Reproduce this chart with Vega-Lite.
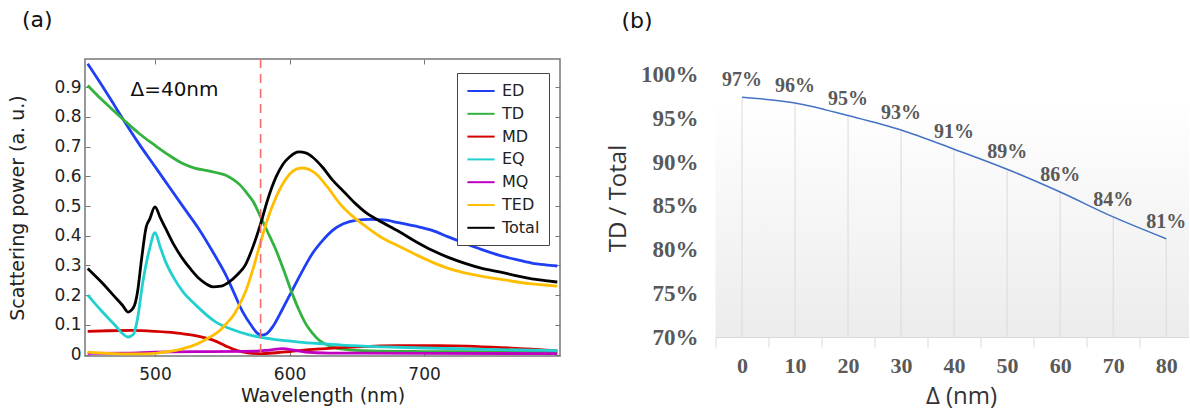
{
  "$schema": "https://vega.github.io/schema/vega-lite/v6.json",
  "background": "white",
  "autosize": {"type": "pad"},
  "padding": {"left": 8, "top": 8, "right": 0, "bottom": 4},
  "bounds": "flush",
  "spacing": 155.5,
  "datasets": {
    "curves": [
      {"s":"ED","wl":450,"v":0.979},{"s":"ED","wl":460,"v":0.91},{"s":"ED","wl":470,"v":0.838},{"s":"ED","wl":477,"v":0.787},{"s":"ED","wl":488,"v":0.71},{"s":"ED","wl":500,"v":0.633},{"s":"ED","wl":510,"v":0.568},{"s":"ED","wl":521,"v":0.497},{"s":"ED","wl":532,"v":0.427},{"s":"ED","wl":545,"v":0.33},{"s":"ED","wl":553,"v":0.265},{"s":"ED","wl":558,"v":0.215},{"s":"ED","wl":565,"v":0.145},{"s":"ED","wl":572,"v":0.095},{"s":"ED","wl":576,"v":0.072},{"s":"ED","wl":579,"v":0.065},{"s":"ED","wl":583,"v":0.07},{"s":"ED","wl":588,"v":0.097},{"s":"ED","wl":595,"v":0.155},{"s":"ED","wl":602,"v":0.216},{"s":"ED","wl":610,"v":0.285},{"s":"ED","wl":617,"v":0.34},{"s":"ED","wl":625,"v":0.386},{"s":"ED","wl":632,"v":0.418},{"s":"ED","wl":640,"v":0.44},{"s":"ED","wl":649,"v":0.452},{"s":"ED","wl":660,"v":0.455},{"s":"ED","wl":670,"v":0.453},{"s":"ED","wl":681,"v":0.444},{"s":"ED","wl":694,"v":0.432},{"s":"ED","wl":706,"v":0.418},{"s":"ED","wl":718,"v":0.396},{"s":"ED","wl":731,"v":0.373},{"s":"ED","wl":743,"v":0.353},{"s":"ED","wl":756,"v":0.334},{"s":"ED","wl":768,"v":0.32},{"s":"ED","wl":780,"v":0.308},{"s":"ED","wl":790,"v":0.302},{"s":"ED","wl":799,"v":0.298},
      {"s":"TD","wl":450,"v":0.906},{"s":"TD","wl":460,"v":0.86},{"s":"TD","wl":470,"v":0.818},{"s":"TD","wl":477,"v":0.789},{"s":"TD","wl":488,"v":0.745},{"s":"TD","wl":500,"v":0.704},{"s":"TD","wl":510,"v":0.672},{"s":"TD","wl":521,"v":0.642},{"s":"TD","wl":530,"v":0.627},{"s":"TD","wl":538,"v":0.62},{"s":"TD","wl":546,"v":0.612},{"s":"TD","wl":553,"v":0.603},{"s":"TD","wl":558,"v":0.59},{"s":"TD","wl":563,"v":0.572},{"s":"TD","wl":568,"v":0.545},{"s":"TD","wl":573,"v":0.515},{"s":"TD","wl":578,"v":0.468},{"s":"TD","wl":584,"v":0.41},{"s":"TD","wl":590,"v":0.351},{"s":"TD","wl":596,"v":0.28},{"s":"TD","wl":602,"v":0.205},{"s":"TD","wl":607,"v":0.15},{"s":"TD","wl":612,"v":0.104},{"s":"TD","wl":617,"v":0.072},{"s":"TD","wl":622,"v":0.048},{"s":"TD","wl":630,"v":0.028},{"s":"TD","wl":640,"v":0.018},{"s":"TD","wl":660,"v":0.012},{"s":"TD","wl":700,"v":0.01},{"s":"TD","wl":750,"v":0.009},{"s":"TD","wl":799,"v":0.008},
      {"s":"MD","wl":450,"v":0.078},{"s":"MD","wl":465,"v":0.08},{"s":"MD","wl":483,"v":0.081},{"s":"MD","wl":500,"v":0.078},{"s":"MD","wl":515,"v":0.073},{"s":"MD","wl":528,"v":0.065},{"s":"MD","wl":538,"v":0.055},{"s":"MD","wl":545,"v":0.045},{"s":"MD","wl":552,"v":0.03},{"s":"MD","wl":558,"v":0.018},{"s":"MD","wl":565,"v":0.009},{"s":"MD","wl":572,"v":0.004},{"s":"MD","wl":579,"v":0.003},{"s":"MD","wl":590,"v":0.006},{"s":"MD","wl":600,"v":0.01},{"s":"MD","wl":620,"v":0.018},{"s":"MD","wl":650,"v":0.026},{"s":"MD","wl":680,"v":0.03},{"s":"MD","wl":710,"v":0.03},{"s":"MD","wl":750,"v":0.025},{"s":"MD","wl":780,"v":0.018},{"s":"MD","wl":799,"v":0.012},
      {"s":"EQ","wl":450,"v":0.2},{"s":"EQ","wl":460,"v":0.148},{"s":"EQ","wl":470,"v":0.1},{"s":"EQ","wl":476,"v":0.07},{"s":"EQ","wl":480,"v":0.059},{"s":"EQ","wl":484,"v":0.068},{"s":"EQ","wl":487,"v":0.12},{"s":"EQ","wl":491,"v":0.244},{"s":"EQ","wl":496,"v":0.356},{"s":"EQ","wl":500,"v":0.41},{"s":"EQ","wl":504,"v":0.36},{"s":"EQ","wl":508,"v":0.311},{"s":"EQ","wl":514,"v":0.258},{"s":"EQ","wl":521,"v":0.21},{"s":"EQ","wl":530,"v":0.168},{"s":"EQ","wl":545,"v":0.11},{"s":"EQ","wl":557,"v":0.085},{"s":"EQ","wl":570,"v":0.066},{"s":"EQ","wl":590,"v":0.05},{"s":"EQ","wl":607,"v":0.042},{"s":"EQ","wl":625,"v":0.036},{"s":"EQ","wl":642,"v":0.031},{"s":"EQ","wl":670,"v":0.026},{"s":"EQ","wl":700,"v":0.022},{"s":"EQ","wl":750,"v":0.017},{"s":"EQ","wl":799,"v":0.013},
      {"s":"MQ","wl":450,"v":0.004},{"s":"MQ","wl":480,"v":0.005},{"s":"MQ","wl":500,"v":0.008},{"s":"MQ","wl":540,"v":0.01},{"s":"MQ","wl":575,"v":0.011},{"s":"MQ","wl":585,"v":0.015},{"s":"MQ","wl":595,"v":0.02},{"s":"MQ","wl":603,"v":0.015},{"s":"MQ","wl":612,"v":0.008},{"s":"MQ","wl":630,"v":0.005},{"s":"MQ","wl":700,"v":0.004},{"s":"MQ","wl":799,"v":0.003},
      {"s":"TED","wl":450,"v":0.008},{"s":"TED","wl":465,"v":0.004},{"s":"TED","wl":485,"v":0.002},{"s":"TED","wl":500,"v":0.004},{"s":"TED","wl":510,"v":0.01},{"s":"TED","wl":521,"v":0.02},{"s":"TED","wl":531,"v":0.035},{"s":"TED","wl":541,"v":0.059},{"s":"TED","wl":548,"v":0.08},{"s":"TED","wl":553,"v":0.104},{"s":"TED","wl":558,"v":0.13},{"s":"TED","wl":563,"v":0.17},{"s":"TED","wl":568,"v":0.22},{"s":"TED","wl":573,"v":0.29},{"s":"TED","wl":578,"v":0.37},{"s":"TED","wl":584,"v":0.46},{"s":"TED","wl":590,"v":0.53},{"s":"TED","wl":595,"v":0.575},{"s":"TED","wl":600,"v":0.607},{"s":"TED","wl":605,"v":0.624},{"s":"TED","wl":610,"v":0.628},{"s":"TED","wl":615,"v":0.622},{"s":"TED","wl":620,"v":0.607},{"s":"TED","wl":628,"v":0.565},{"s":"TED","wl":637,"v":0.51},{"s":"TED","wl":647,"v":0.465},{"s":"TED","wl":657,"v":0.43},{"s":"TED","wl":668,"v":0.395},{"s":"TED","wl":681,"v":0.365},{"s":"TED","wl":694,"v":0.336},{"s":"TED","wl":706,"v":0.311},{"s":"TED","wl":718,"v":0.29},{"s":"TED","wl":731,"v":0.274},{"s":"TED","wl":743,"v":0.263},{"s":"TED","wl":756,"v":0.254},{"s":"TED","wl":768,"v":0.245},{"s":"TED","wl":780,"v":0.238},{"s":"TED","wl":790,"v":0.234},{"s":"TED","wl":799,"v":0.23},
      {"s":"Total","wl":450,"v":0.29},{"s":"Total","wl":460,"v":0.245},{"s":"Total","wl":470,"v":0.195},{"s":"Total","wl":476,"v":0.165},{"s":"Total","wl":480,"v":0.143},{"s":"Total","wl":484,"v":0.158},{"s":"Total","wl":487,"v":0.21},{"s":"Total","wl":490,"v":0.32},{"s":"Total","wl":493.5,"v":0.43},{"s":"Total","wl":496,"v":0.455},{"s":"Total","wl":500,"v":0.497},{"s":"Total","wl":504,"v":0.46},{"s":"Total","wl":508,"v":0.424},{"s":"Total","wl":514,"v":0.37},{"s":"Total","wl":520.5,"v":0.323},{"s":"Total","wl":527,"v":0.285},{"s":"Total","wl":533,"v":0.255},{"s":"Total","wl":538,"v":0.238},{"s":"Total","wl":543,"v":0.228},{"s":"Total","wl":549,"v":0.23},{"s":"Total","wl":555,"v":0.244},{"s":"Total","wl":561,"v":0.268},{"s":"Total","wl":567,"v":0.3},{"s":"Total","wl":573,"v":0.365},{"s":"Total","wl":578.5,"v":0.44},{"s":"Total","wl":584,"v":0.525},{"s":"Total","wl":590,"v":0.598},{"s":"Total","wl":595,"v":0.64},{"s":"Total","wl":600,"v":0.665},{"s":"Total","wl":607,"v":0.682},{"s":"Total","wl":612,"v":0.679},{"s":"Total","wl":617,"v":0.665},{"s":"Total","wl":625,"v":0.628},{"s":"Total","wl":632,"v":0.587},{"s":"Total","wl":640,"v":0.55},{"s":"Total","wl":649,"v":0.508},{"s":"Total","wl":657,"v":0.477},{"s":"Total","wl":666,"v":0.452},{"s":"Total","wl":681,"v":0.415},{"s":"Total","wl":694,"v":0.38},{"s":"Total","wl":706,"v":0.351},{"s":"Total","wl":718,"v":0.327},{"s":"Total","wl":731,"v":0.306},{"s":"Total","wl":743,"v":0.29},{"s":"Total","wl":756,"v":0.278},{"s":"Total","wl":768,"v":0.266},{"s":"Total","wl":780,"v":0.255},{"s":"Total","wl":790,"v":0.249},{"s":"Total","wl":799,"v":0.244}
    ],
    "ratio": [
      {"d":0,"r":0.9745,"label":"97%"},
      {"d":10,"r":0.968,"label":"96%"},
      {"d":20,"r":0.9535,"label":"95%"},
      {"d":30,"r":0.937,"label":"93%"},
      {"d":40,"r":0.915,"label":"91%"},
      {"d":50,"r":0.892,"label":"89%"},
      {"d":60,"r":0.866,"label":"86%"},
      {"d":70,"r":0.8375,"label":"84%"},
      {"d":80,"r":0.8125,"label":"81%"}
    ]
  },
  "hconcat": [
    {
      "width": 475,
      "height": 297,
      "title": {"text": "(a)", "anchor": "start", "frame": "group", "dx": -63, "offset": 9, "baseline": "alphabetic", "fontSize": 22, "font": "DejaVu Sans", "fontWeight": "normal", "color": "#111"},
      "view": {"stroke": "#777", "strokeWidth": 1.5},
      "layer": [
        {
          "data": {"name": "curves"},
          "mark": {"type": "line", "strokeWidth": 2.8, "interpolate": "monotone"},
          "encoding": {
            "x": {"field": "wl", "type": "quantitative", "scale": {"domain": [448, 801], "nice": false, "zero": false},
                  "axis": {"orient": "bottom", "values": [500, 600, 700], "tickSize": -5, "labelPadding": 15, "domain": false, "grid": false, "tickColor": "#777", "labelFontSize": 17, "labelFont": "DejaVu Sans", "labelColor": "#222", "title": "Wavelength (nm)", "titleFont": "DejaVu Sans", "titleFontSize": 19, "titleFontWeight": "normal", "titleColor": "#222", "titlePadding": 4}},
            "y": {"field": "v", "type": "quantitative", "scale": {"domain": [-0.005, 0.995], "nice": false, "zero": false},
                  "axis": {"orient": "left", "values": [0, 0.1, 0.2, 0.3, 0.4, 0.5, 0.6, 0.7, 0.8, 0.9], "format": ".1~f", "tickSize": -5, "labelPadding": 9, "domain": false, "grid": false, "tickColor": "#777", "labelFontSize": 17, "labelFont": "DejaVu Sans", "labelColor": "#222", "title": "Scattering power (a. u.)", "titleFont": "DejaVu Sans", "titleFontSize": 19, "titleFontWeight": "normal", "titleColor": "#222", "titlePadding": 26}},
            "color": {"field": "s", "type": "nominal",
                      "scale": {"domain": ["ED", "TD", "MD", "EQ", "MQ", "TED", "Total"], "range": ["#1f3ff5", "#33b23f", "#d40000", "#22d0d0", "#c000c0", "#ffbf00", "#000000"]},
                      "legend": {"orient": "none", "legendX": 372, "legendY": 14, "title": null, "symbolType": "M-1.7,0H1.7", "symbolSize": 256, "symbolStrokeWidth": 2, "symbolOffset": 6, "labelFontSize": 16, "labelFont": "DejaVu Sans", "labelColor": "#222", "padding": 9, "rowPadding": 5.8, "strokeColor": "#444", "fillColor": "white", "labelOffset": 12}}
          }
        },
        {
          "data": {"values": [{"wl": 578.5}]},
          "mark": {"type": "rule", "color": "#f26d6d", "strokeWidth": 1.6, "strokeDash": [9, 6]},
          "encoding": {
            "x": {"field": "wl", "type": "quantitative", "scale": {"domain": [448, 801], "nice": false, "zero": false}, "axis": null}
          }
        },
        {
          "data": {"values": [{"wl": 514.5, "v": 0.89, "note": "Δ=40nm"}]},
          "mark": {"type": "text", "font": "DejaVu Sans", "fontSize": 20, "color": "#111", "baseline": "middle", "align": "center"},
          "encoding": {
            "x": {"field": "wl", "type": "quantitative", "scale": {"domain": [448, 801], "nice": false, "zero": false},
                  "axis": {"orient": "top", "values": [500, 600, 700], "labels": false, "tickSize": -5, "domain": false, "grid": false, "tickColor": "#777", "title": null}},
            "y": {"field": "v", "type": "quantitative", "scale": {"domain": [-0.005, 0.995], "nice": false, "zero": false},
                  "axis": {"orient": "right", "values": [0, 0.1, 0.2, 0.3, 0.4, 0.5, 0.6, 0.7, 0.8, 0.9], "labels": false, "tickSize": -5, "domain": false, "grid": false, "tickColor": "#777", "title": null}},
            "text": {"field": "note", "type": "nominal"}
          }
        }
      ],
      "resolve": {"axis": {"x": "independent", "y": "independent"}}
    },
    {
      "width": 473.5,
      "height": 278,
      "title": {"text": "(b)", "anchor": "start", "frame": "group", "dx": -94, "offset": 9, "baseline": "alphabetic", "fontSize": 22, "font": "DejaVu Sans", "fontWeight": "normal", "color": "#111"},
      "view": {"stroke": null},
      "layer": [
        {
          "data": {"values": [{}]},
          "mark": {"type": "rect", "fill": {"gradient": "linear", "x1": 0, "y1": 0, "x2": 0, "y2": 1, "stops": [{"offset": 0, "color": "#ffffff"}, {"offset": 0.15, "color": "#ffffff"}, {"offset": 1, "color": "#ececec"}]}},
          "encoding": {}
        },
        {
          "data": {"name": "ratio"},
          "mark": {"type": "rule", "color": "#dadada", "strokeWidth": 1},
          "encoding": {
            "x": {"field": "d", "type": "quantitative", "scale": {"domain": [-5, 84.3], "nice": false, "zero": false}, "axis": null},
            "y": {"field": "r", "type": "quantitative", "scale": {"domain": [0.70, 1.0183], "nice": false, "zero": false}, "axis": null},
            "y2": {"datum": 0.70}
          }
        },
        {
          "data": {"name": "ratio"},
          "mark": {"type": "line", "color": "#4472c4", "strokeWidth": 1.5, "interpolate": "monotone"},
          "encoding": {
            "x": {"field": "d", "type": "quantitative", "scale": {"domain": [-5, 84.3], "nice": false, "zero": false},
                  "axis": {"orient": "bottom", "values": [-5, 5, 15, 25, 35, 45, 55, 65, 75], "labelExpr": "datum.value + 5", "labelOffset": 26.5, "tickSize": 10, "tickColor": "#d9d9d9", "domainColor": "#d9d9d9", "labelFlush": false, "labelOverlap": false, "grid": false, "labelFont": "Liberation Serif", "labelFontWeight": "bold", "labelFontSize": 22, "labelColor": "#595959", "labelPadding": 8, "title": "Δ (nm)", "titleFont": "Open Sans", "titleFontSize": 24, "titleFontWeight": "normal", "titleColor": "#333", "titlePadding": 8, "titleX": 245.5}},
            "y": {"field": "r", "type": "quantitative", "scale": {"domain": [0.70, 1.0183], "nice": false, "zero": false},
                  "axis": {"orient": "left", "values": [0.7, 0.75, 0.8, 0.85, 0.9, 0.95, 1.0], "format": ".0%", "domain": false, "ticks": false, "grid": false, "labelFont": "Liberation Serif", "labelFontWeight": "bold", "labelFontSize": 23, "labelColor": "#595959", "labelPadding": 17.5, "title": "TD / Total", "titleFont": "Open Sans", "titleFontSize": 24, "titleFontWeight": "normal", "titleColor": "#333", "titlePadding": 10}}
          }
        },
        {
          "data": {"name": "ratio"},
          "mark": {"type": "text", "font": "Liberation Serif", "fontWeight": "bold", "fontSize": 20, "color": "#595959", "dy": -17, "baseline": "middle", "align": "center"},
          "encoding": {
            "x": {"field": "d", "type": "quantitative", "scale": {"domain": [-5, 84.3], "nice": false, "zero": false}, "axis": null},
            "y": {"field": "r", "type": "quantitative", "scale": {"domain": [0.70, 1.0183], "nice": false, "zero": false}, "axis": null},
            "text": {"field": "label", "type": "nominal"}
          }
        }
      ],
      "resolve": {"axis": {"x": "independent", "y": "independent"}}
    }
  ],
  "config": {
    "font": "DejaVu Sans",
    "view": {"stroke": null}
  }
}
